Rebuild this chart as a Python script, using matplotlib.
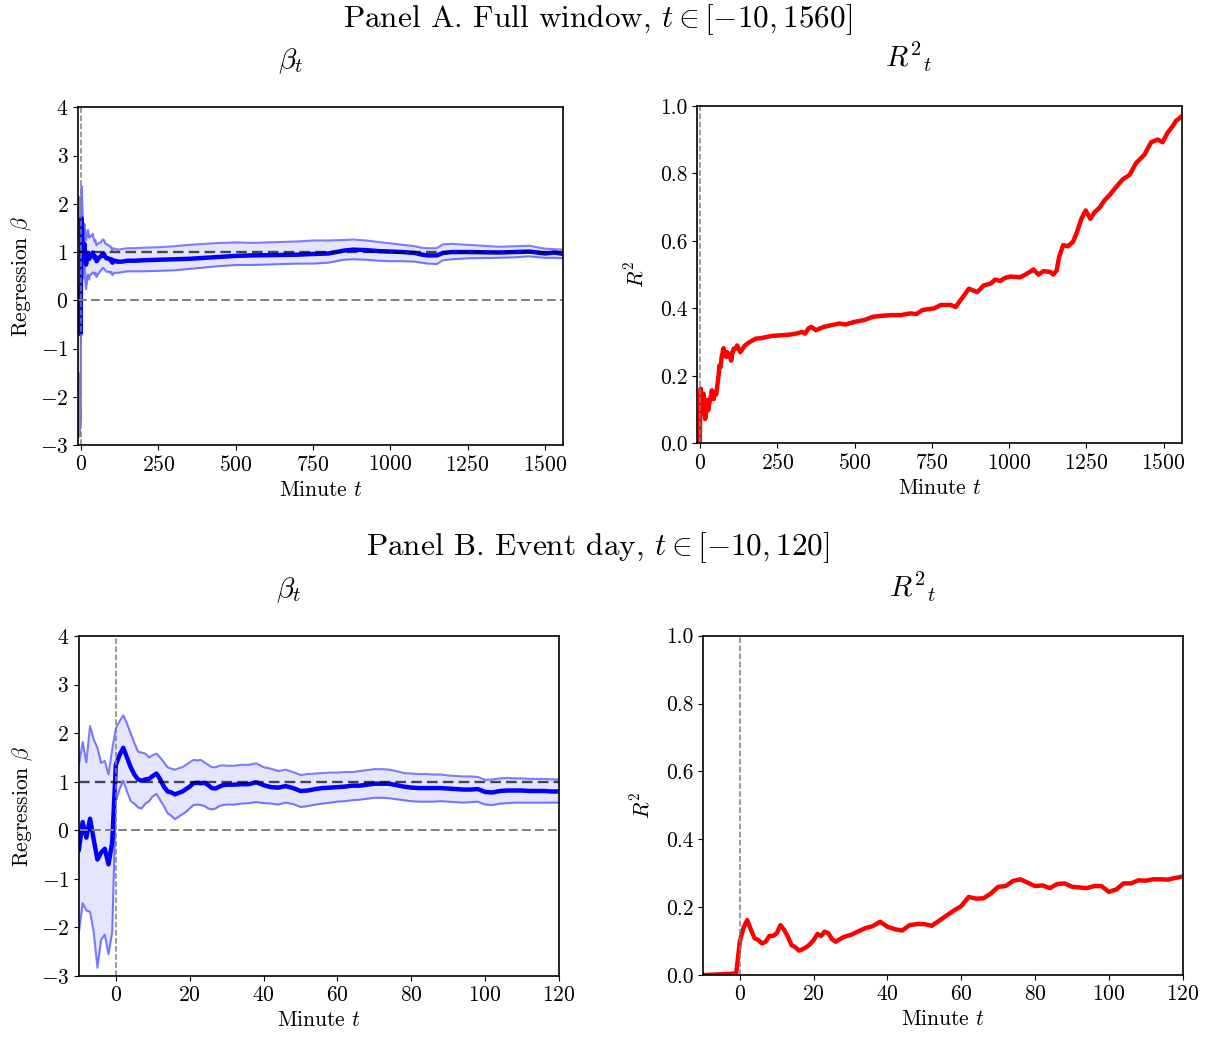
#!/usr/bin/env python3

import numpy as np
import matplotlib
matplotlib.use('Agg')
import matplotlib.pyplot as plt

plt.rcParams['font.family'] = 'serif'
plt.rcParams['font.serif'] = ['cmr10']
plt.rcParams['mathtext.fontset'] = 'cm'
plt.rcParams['axes.formatter.use_mathtext'] = True

# event day: minutes -10..30 every minute, then every 2 minutes to 120
minutes_day = [-10, -9, -8, -7, -6, -5, -4, -3, -2, -1,
               0, 1, 2, 3, 4, 5, 6, 7, 8, 9, 10,
               11, 12, 13, 14, 15, 16, 17, 18, 19, 20,
               21, 22, 23, 24, 25, 26, 27, 28, 29, 30,
               32, 34, 36, 38, 40, 42, 44, 46, 48, 50,
               52, 54, 56, 58, 60, 62, 64, 66, 68, 70,
               72, 74, 76, 78, 80, 82, 84, 86, 88, 90,
               92, 94, 96, 98, 100, 102, 104, 106, 108, 110,
               112, 114, 116, 118, 120]

beta_day = [-0.39, 0.17, -0.15, 0.24, -0.19, -0.60, -0.46, -0.38, -0.70, -0.25,
            1.35, 1.55, 1.70, 1.50, 1.30, 1.15, 1.05, 1.02, 1.05, 1.06, 1.12,
            1.17, 1.05, 0.90, 0.80, 0.78, 0.74, 0.77, 0.80, 0.85, 0.90,
            0.97, 0.98, 0.97, 0.98, 0.93, 0.87, 0.86, 0.90, 0.93, 0.94,
            0.94, 0.95, 0.95, 0.99, 0.93, 0.89, 0.88, 0.91, 0.87, 0.81,
            0.82, 0.85, 0.87, 0.88, 0.89, 0.90, 0.92, 0.92, 0.94, 0.96,
            0.96, 0.96, 0.93, 0.90, 0.88, 0.87, 0.87, 0.87, 0.87, 0.86,
            0.85, 0.84, 0.84, 0.85, 0.79, 0.78, 0.81, 0.82, 0.82, 0.82,
            0.81, 0.81, 0.81, 0.80, 0.80]

upper_day = [1.36, 1.82, 1.40, 2.15, 1.87, 1.70, 1.39, 1.43, 1.15, 1.67,
             2.10, 2.25, 2.37, 2.20, 2.00, 1.80, 1.62, 1.60, 1.58, 1.50, 1.55,
             1.58, 1.50, 1.40, 1.30, 1.27, 1.25, 1.28, 1.30, 1.35, 1.40,
             1.45, 1.44, 1.45, 1.40, 1.35, 1.30, 1.30, 1.33, 1.34, 1.33,
             1.33, 1.35, 1.35, 1.38, 1.30, 1.27, 1.22, 1.25, 1.20, 1.14,
             1.16, 1.17, 1.18, 1.19, 1.19, 1.20, 1.20, 1.22, 1.24, 1.26,
             1.26, 1.25, 1.22, 1.18, 1.17, 1.16, 1.16, 1.15, 1.15, 1.13,
             1.12, 1.11, 1.11, 1.10, 1.04, 1.05, 1.07, 1.08, 1.07, 1.07,
             1.06, 1.06, 1.06, 1.05, 1.05]

lower_day = [-2.10, -1.50, -1.65, -1.68, -2.10, -2.83, -2.25, -2.15, -2.55, -2.10,
             0.60, 0.85, 1.02, 0.80, 0.60, 0.55, 0.47, 0.45, 0.55, 0.60, 0.70,
             0.75, 0.62, 0.50, 0.35, 0.30, 0.23, 0.28, 0.33, 0.38, 0.45,
             0.52, 0.53, 0.52, 0.50, 0.45, 0.43, 0.45, 0.50, 0.52, 0.53,
             0.53, 0.55, 0.56, 0.58, 0.56, 0.55, 0.53, 0.57, 0.54, 0.48,
             0.50, 0.53, 0.55, 0.57, 0.59, 0.60, 0.62, 0.63, 0.65, 0.67,
             0.67, 0.66, 0.64, 0.62, 0.60, 0.59, 0.59, 0.59, 0.60, 0.59,
             0.58, 0.57, 0.58, 0.59, 0.53, 0.52, 0.55, 0.56, 0.57, 0.57,
             0.57, 0.57, 0.57, 0.57, 0.57]

r2_day = [0.000, 0.000, 0.001, 0.001, 0.002, 0.002, 0.003, 0.003, 0.004, 0.005,
          0.100, 0.140, 0.162, 0.133, 0.108, 0.103, 0.093, 0.098, 0.115, 0.115, 0.123,
          0.147, 0.133, 0.113, 0.088, 0.082, 0.072, 0.076, 0.082, 0.091, 0.103,
          0.121, 0.115, 0.128, 0.123, 0.105, 0.098, 0.105, 0.111, 0.115, 0.118,
          0.128, 0.138, 0.144, 0.157, 0.142, 0.135, 0.131, 0.147, 0.150, 0.150,
          0.145, 0.160, 0.175, 0.190, 0.203, 0.230, 0.225, 0.226, 0.240, 0.260,
          0.262, 0.277, 0.282, 0.272, 0.262, 0.264, 0.256, 0.268, 0.270, 0.260,
          0.258, 0.256, 0.262, 0.262, 0.245, 0.252, 0.270, 0.270, 0.279, 0.278,
          0.282, 0.282, 0.281, 0.286, 0.290]

# rest of the full window, beta and bands
minutes_beta_rest = [130, 150, 175, 200, 250, 300, 350, 400, 450, 500,
                     550, 600, 650, 700, 750, 800, 850, 880, 920, 960,
                     1000, 1040, 1080, 1100, 1120, 1150, 1170, 1200, 1250, 1300,
                     1350, 1400, 1450, 1500, 1530, 1560]

beta_rest = [0.80, 0.82, 0.82, 0.83, 0.84, 0.85, 0.86, 0.88, 0.90, 0.92,
             0.93, 0.935, 0.94, 0.945, 0.96, 0.97, 1.03, 1.05, 1.04, 1.02,
             1.01, 1.00, 0.98, 0.95, 0.93, 0.93, 0.98, 1.00, 1.00, 0.995,
             0.99, 1.00, 1.01, 0.97, 0.99, 0.96]

upper_rest = [1.06, 1.08, 1.08, 1.09, 1.10, 1.12, 1.15, 1.17, 1.19, 1.20,
              1.19, 1.20, 1.21, 1.22, 1.24, 1.24, 1.25, 1.26, 1.24, 1.21,
              1.18, 1.15, 1.12, 1.09, 1.08, 1.08, 1.16, 1.17, 1.15, 1.13,
              1.11, 1.12, 1.13, 1.07, 1.06, 1.05]

lower_rest = [0.58, 0.60, 0.60, 0.60, 0.61, 0.62, 0.65, 0.68, 0.71, 0.73,
              0.73, 0.74, 0.75, 0.76, 0.76, 0.78, 0.84, 0.85, 0.84, 0.82,
              0.81, 0.81, 0.80, 0.78, 0.76, 0.75, 0.83, 0.85, 0.87, 0.875,
              0.88, 0.89, 0.91, 0.88, 0.88, 0.87]

# rest of the full window, R^2
minutes_r2_rest = [130, 145, 160, 180, 200, 230, 260, 290, 310, 330,
                   340, 350, 360, 375, 400, 425, 450, 470, 500, 530,
                   560, 590, 620, 650, 680, 700, 720, 758, 779, 811,
                   827, 843, 870, 897, 918, 940, 955, 971, 987, 1004,
                   1036, 1057, 1079, 1095, 1111, 1133, 1143, 1154, 1162, 1175,
                   1191, 1207, 1218, 1234, 1248, 1263, 1277, 1293, 1309, 1325,
                   1347, 1368, 1390, 1411, 1438, 1460, 1481, 1497, 1513, 1530,
                   1540, 1554, 1560]

r2_rest = [0.270, 0.290, 0.300, 0.310, 0.312, 0.318, 0.320, 0.322, 0.325, 0.330,
           0.325, 0.340, 0.345, 0.335, 0.345, 0.350, 0.355, 0.352, 0.360, 0.365,
           0.375, 0.378, 0.380, 0.380, 0.385, 0.383, 0.395, 0.400, 0.410, 0.410,
           0.404, 0.424, 0.458, 0.448, 0.468, 0.473, 0.485, 0.481, 0.490, 0.494,
           0.492, 0.502, 0.515, 0.500, 0.510, 0.508, 0.500, 0.512, 0.552, 0.587,
           0.584, 0.597, 0.621, 0.665, 0.690, 0.665, 0.685, 0.698, 0.720, 0.735,
           0.760, 0.782, 0.795, 0.830, 0.855, 0.892, 0.900, 0.892, 0.920, 0.940,
           0.955, 0.965, 0.970]


def plot_beta(ax, t, beta, lower, upper, xlim, xticks):
    ax.fill_between(t, lower, upper, color='blue', alpha=0.1, lw=0)
    ax.plot(t, upper, color='blue', alpha=0.5, lw=1.5)
    ax.plot(t, lower, color='blue', alpha=0.5, lw=1.5)
    ax.plot(t, beta, color='blue', lw=3.2)
    ax.axhline(1, color='black', alpha=0.7, ls=(0, (4.5, 2.2)), lw=1.7)
    ax.axhline(0, color='gray', ls=(0, (4.5, 2.2)), lw=1.4)
    ax.axvline(0, color='gray', ls='--', lw=1.1)
    ax.set_xlim(*xlim)
    ax.set_ylim(-3, 4)
    ax.set_xticks(xticks)
    ax.set_yticks(range(-3, 5))
    ax.set_xlabel(r'Minute $t$')
    ax.set_ylabel(r'Regression $\beta$')
    ax.set_title(r'$\beta_t$', fontsize=21, x=0.437, pad=28)


def plot_r2(ax, t, r2, xlim, xticks):
    ax.plot(t, r2, color='red', lw=3.2)
    ax.axvline(0, color='gray', ls='--', lw=1.1)
    ax.set_xlim(*xlim)
    ax.set_ylim(0, 1)
    ax.set_xticks(xticks)
    ax.set_yticks(np.arange(0, 1.01, 0.2))
    ax.yaxis.set_major_formatter(matplotlib.ticker.FormatStrFormatter('%.1f'))
    ax.set_xlabel(r'Minute $t$')
    ax.set_ylabel(r'$R^2$', labelpad=9)
    ax.set_title(r'${R^2}_t$', fontsize=21, x=0.437, pad=28)


if __name__ == '__main__':
    plt.rcParams['font.size'] = 15.5
    plt.rcParams['axes.linewidth'] = 1.2

    fig = plt.figure(figsize=(12.11, 10.39), dpi=100)
    ax_a1 = fig.add_axes([0.0644, 0.5717, 0.4009, 0.3250])
    ax_a2 = fig.add_axes([0.5756, 0.5733, 0.4005, 0.3249])
    ax_b1 = fig.add_axes([0.0652, 0.0606, 0.3964, 0.3272])
    ax_b2 = fig.add_axes([0.5805, 0.0616, 0.3961, 0.3266])

    t_full_beta = np.concatenate([minutes_day, minutes_beta_rest])
    t_full_r2 = np.concatenate([minutes_day, minutes_r2_rest])

    plot_beta(ax_a1, t_full_beta,
              np.concatenate([beta_day, beta_rest]),
              np.concatenate([lower_day, lower_rest]),
              np.concatenate([upper_day, upper_rest]),
              (-10, 1560), range(0, 1501, 250))
    plot_r2(ax_a2, t_full_r2, np.concatenate([r2_day, r2_rest]),
            (-10, 1560), range(0, 1501, 250))

    plot_beta(ax_b1, minutes_day, beta_day, lower_day, upper_day,
              (-10, 120), range(0, 121, 20))
    plot_r2(ax_b2, minutes_day, r2_day, (-10, 120), range(0, 121, 20))

    fig.text(0.4934, 0.981, r'Panel A. Full window, $t \in [-10, 1560]$',
             ha='center', va='center', fontsize=22.5)
    fig.text(0.4934, 0.4726, r'Panel B. Event day, $t \in [-10, 120]$',
             ha='center', va='center', fontsize=22.5)

    fig.savefig('out.png', dpi=100)
